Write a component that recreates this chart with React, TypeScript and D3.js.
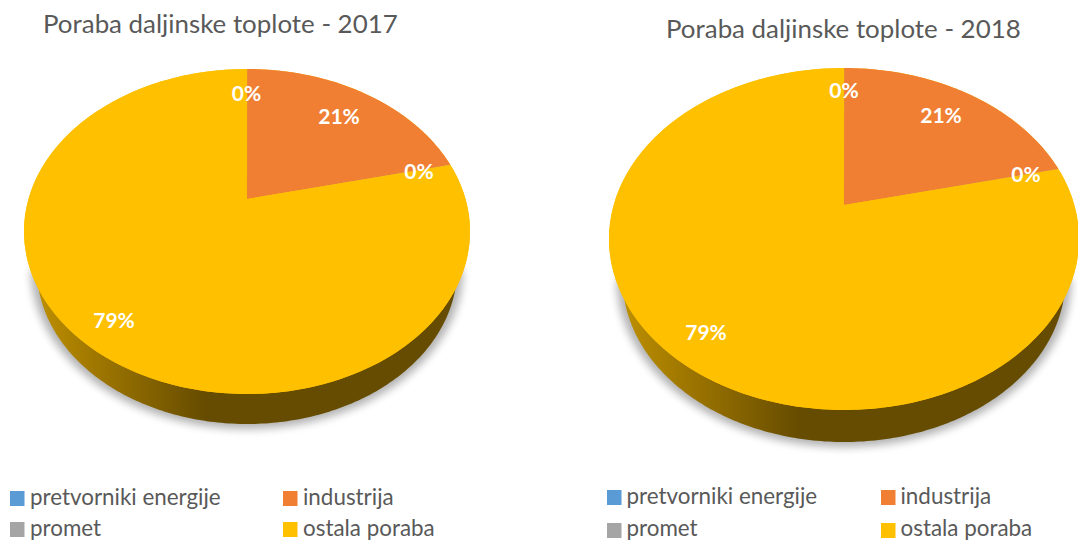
import React from "react";
import * as d3 from "d3";

const categories = ["pretvorniki energije", "industrija", "promet", "ostala poraba"];
const colors = ["#5B9BD5", "#F07F33", "#A5A5A5", "#FFC000"];
const values2017 = [0.02, 21.3, 0.02, 78.66];
const values2018 = [0.02, 21.3, 0.02, 78.66];
const labels2017 = ["0%", "21%", "0%", "79%"];
const labels2018 = ["0%", "21%", "0%", "79%"];

const FONT = "Lato, Carlito, 'Open Sans', sans-serif";

type Layout = {
  id: string; title: string; titleX: number; titleY: number;
  values: number[]; labels: string[];
  cx: number; rx: number; top: number; apex: number; bottom: number; depth: number;
  labelPos: [number, number][];
  legendX: [number, number]; legendSwatchY: [number, number]; legendTextY: [number, number];
  legendTextDx: number; gradEnd: number;
};

const pies: Layout[] = [
  {
    id: "a", title: "Poraba daljinske toplote - 2017", titleX: 43, titleY: 33,
    values: values2017, labels: labels2017,
    cx: 247, rx: 223, top: 69, apex: 199, bottom: 394, depth: 30,
    labelPos: [[246.5, 101], [339, 124], [419, 179], [114, 328]],
    legendX: [10, 283], legendSwatchY: [491, 522], legendTextY: [505, 536],
    legendTextDx: 20, gradEnd: 205,
  },
  {
    id: "b", title: "Poraba daljinske toplote - 2018", titleX: 666, titleY: 38,
    values: values2018, labels: labels2018,
    cx: 844, rx: 235, top: 68, apex: 205, bottom: 410, depth: 32,
    labelPos: [[844, 98], [941, 123], [1026, 182], [706, 340]],
    legendX: [607, 881], legendSwatchY: [490, 523], legendTextY: [504, 536],
    legendTextDx: 19.5, gradEnd: 800,
  },
];

function Pie({ p }: { p: Layout }) {
  // homography taking a unit disc seen in perspective on to the drawn ellipse
  const c = (2 * p.apex - p.top - p.bottom) / (p.bottom - p.top);
  const a = p.apex - p.top + p.top * c;
  const R = p.rx * Math.sqrt(1 - c * c);
  const project = (t: number, r = 1): [number, number] => {
    const x = r * Math.sin(t);
    const z = -r * Math.cos(t);
    const w = 1 + c * z;
    return [p.cx + (R * x) / w, (p.apex + a * z) / w];
  };
  const arcs = d3.pie<number>().sort(null)(p.values);
  const line = d3.line();
  const slicePath = (s: number, e: number) => {
    const n = Math.max(2, Math.ceil((e - s) * 60));
    const pts: [number, number][] = [[p.cx, p.apex]];
    d3.range(n + 1).forEach((i) => pts.push(project(s + ((e - s) * i) / n)));
    return line(pts) + "Z";
  };
  const cy = (p.top + p.bottom) / 2;
  const ry = (p.bottom - p.top) / 2;
  const wallBottom = p.bottom + p.depth;
  const halfEllipse = (rx: number, ey: number, extra: number) => {
    const cyy = wallBottom - ey;
    return line(d3.range(0, 181).map((i): [number, number] => {
      const t = (i * Math.PI) / 180;
      return [p.cx - rx * Math.cos(t), cyy + (ey + extra) * Math.sin(t)];
    })) + "Z";
  };
  const wallRx = p.rx * 0.942;
  const wallRy = ry * 0.954;

  return (
    <g>
      <defs>
        <linearGradient id={`wall-${p.id}`} gradientUnits="userSpaceOnUse" x1={p.cx - p.rx} x2={p.gradEnd} y1={0} y2={0}>
          <stop offset="0" stopColor="#C49400" />
          <stop offset="0.45" stopColor="#9A7300" />
          <stop offset="1" stopColor="#664C00" />
        </linearGradient>
        <filter id={`blur-${p.id}`} x="-10%" y="-10%" width="120%" height="120%">
          <feGaussianBlur stdDeviation="4" />
        </filter>
      </defs>
      <text x={p.titleX} y={p.titleY} fontFamily={FONT} fontSize={25.9} fill="#595959">{p.title}</text>
      <path d={halfEllipse(wallRx + 6, wallRy, 5)} fill="#000" opacity={0.3} filter={`url(#blur-${p.id})`} />
      <path d={halfEllipse(wallRx, wallRy, 0)} fill={`url(#wall-${p.id})`} />
      <ellipse cx={p.cx} cy={cy} rx={p.rx} ry={ry} fill={colors[3]} />
      {arcs.map((s, i) => (
        <path key={i} d={slicePath(s.startAngle, s.endAngle)} fill={colors[i]} />
      ))}
      {p.labels.map((l, i) => (
        <text key={i} x={p.labelPos[i][0]} y={p.labelPos[i][1]} textAnchor="middle" fontFamily={FONT} fontWeight={700} fontSize={21} fill="#fff">{l}</text>
      ))}
      {categories.map((cat, i) => {
        const col = i % 2;
        const row = Math.floor(i / 2);
        return (
          <g key={cat}>
            <rect x={p.legendX[col]} y={p.legendSwatchY[row]} width={14.5} height={15} fill={colors[i]} />
            <text x={p.legendX[col] + p.legendTextDx} y={p.legendTextY[row]} fontFamily={FONT} fontSize={22.4} fill="#595959">{cat}</text>
          </g>
        );
      })}
    </g>
  );
}

export default function App() {
  return (
    <svg width={1078} height={541} style={{ position: "absolute", left: 0, top: 0, background: "#fff" }}>
      {pies.map((p) => <Pie key={p.id} p={p} />)}
    </svg>
  );
}
